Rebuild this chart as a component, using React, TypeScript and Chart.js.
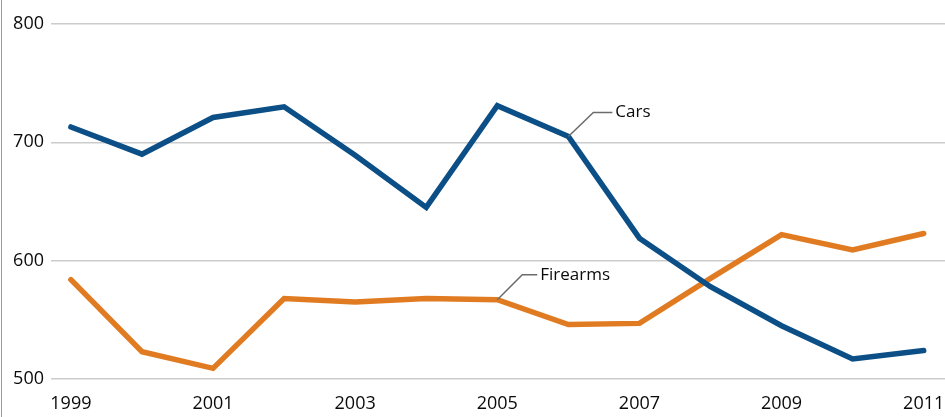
import React, { useEffect, useRef } from "react";
import { Chart, registerables } from "chart.js";

Chart.register(...registerables);

const years = [1999, 2000, 2001, 2002, 2003, 2004, 2005, 2006, 2007, 2008, 2009, 2010, 2011];
const cars = [713, 690, 721, 730, 689, 645, 731, 705, 619, 578, 545, 517, 524];
const firearms = [584, 523, 509, 568, 565, 568, 567, 546, 547, 585, 622, 609, 623];
const xTickYears = [1999, 2001, 2003, 2005, 2007, 2009, 2011];
const yTicks = [500, 600, 700, 800];

const FONT = "'Open Sans', sans-serif";

const labelPlugin = {
  id: "leaderLabels",
  afterDatasetsDraw(chart: any) {
    const ctx = chart.ctx;
    const items = [
      { ds: 0, idx: 7, text: "Cars", dx: 25, dy: -24, hx: 44 },
      { ds: 1, idx: 6, text: "Firearms", dx: 25, dy: -25, hx: 40 },
    ];
    ctx.save();
    for (const it of items) {
      const pt = chart.getDatasetMeta(it.ds).data[it.idx];
      const x = pt.x;
      const y = pt.y;
      ctx.strokeStyle = "#6b6b6b";
      ctx.lineWidth = 1.5;
      ctx.beginPath();
      ctx.moveTo(x, y);
      ctx.lineTo(x + it.dx, y + it.dy);
      ctx.lineTo(x + it.hx, y + it.dy);
      ctx.stroke();
      ctx.fillStyle = "#0a0a0a";
      ctx.font = "17px " + FONT;
      ctx.textBaseline = "middle";
      ctx.textAlign = "left";
      ctx.fillText(it.text, x + it.hx + 3, y + it.dy);
    }
    ctx.restore();
  },
};

export default function App() {
  const ref = useRef<HTMLCanvasElement>(null);
  useEffect(() => {
    if (!ref.current) return;
    const chart = new Chart(ref.current, {
      type: "line",
      data: {
        datasets: [
          {
            label: "Cars",
            data: years.map((y, i) => ({ x: y, y: cars[i] })),
            borderColor: "#0b4f86",
            borderWidth: 5.5,
            pointRadius: 0,
            tension: 0,
            borderCapStyle: "round",
            borderJoinStyle: "miter",
          },
          {
            label: "Firearms",
            data: years.map((y, i) => ({ x: y, y: firearms[i] })),
            borderColor: "#e07b22",
            borderWidth: 5.5,
            pointRadius: 0,
            tension: 0,
            borderCapStyle: "round",
            borderJoinStyle: "miter",
          },
        ],
      },
      options: {
        animation: false,
        responsive: false,
        maintainAspectRatio: false,
        layout: { padding: { top: 24, left: 0, right: 0, bottom: 0 } },
        plugins: { legend: { display: false }, tooltip: { enabled: false } },
        scales: {
          x: {
            type: "linear",
            min: 1998.72,
            max: 2011.3,
            grid: { display: false, drawTicks: false },
            border: { display: false },
            afterBuildTicks: (scale: any) => {
              scale.ticks = xTickYears.map((v) => ({ value: v }));
            },
            afterFit: (scale: any) => {
              scale.height = 38;
              scale.paddingLeft = 0;
              scale.paddingRight = 0;
            },
            ticks: {
              autoSkip: false,
              maxRotation: 0,
              padding: 14,
              color: "#0a0a0a",
              font: { family: FONT, size: 18 },
              callback: (v: any) => String(v),
            },
          },
          y: {
            type: "linear",
            min: 500,
            max: 800,
            afterBuildTicks: (scale: any) => {
              scale.ticks = yTicks.map((v) => ({ value: v }));
            },
            afterFit: (scale: any) => {
              scale.width = 51;
              scale.paddingTop = 0;
              scale.paddingBottom = 0;
            },
            grid: { color: "#cccccc", lineWidth: 1.5, drawTicks: false },
            border: { display: false },
            ticks: {
              padding: 7,
              color: "#0a0a0a",
              font: { family: FONT, size: 18 },
            },
          },
        },
      },
      plugins: [labelPlugin],
    } as any);
    return () => chart.destroy();
  }, []);
  return (
    <div style={{ position: "fixed", left: 0, top: 0, width: 945, height: 417, background: "#fff" }}>
      <div style={{ position: "absolute", left: 1, top: 0, width: 1, height: 417, background: "#7fa2c4" }} />
      <canvas ref={ref} width={945} height={417} style={{ display: "block" }} />
    </div>
  );
}
